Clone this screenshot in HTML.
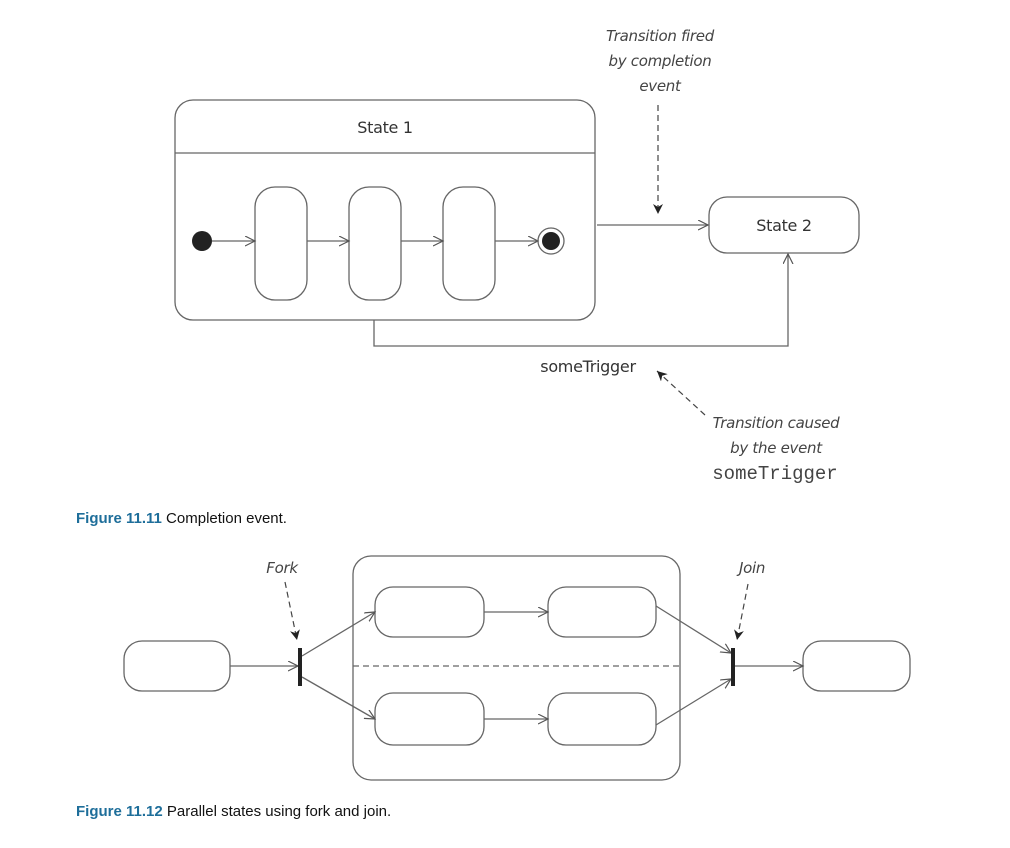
<!DOCTYPE html>
<html><head><style>
body{margin:0;background:#fff;}
svg{display:block}
.t{font-family:"DejaVu Sans","Liberation Sans",sans-serif;font-size:16px;fill:#333;letter-spacing:-0.3px}
.i{font-family:"DejaVu Sans","Liberation Sans",sans-serif;font-style:italic;font-size:15px;fill:#444;letter-spacing:-0.3px}
.m{font-family:"Liberation Mono",monospace;font-size:19px;fill:#444}
.c{font-family:"Liberation Sans",sans-serif;font-size:15px;fill:#111}
.cb{font-weight:bold;fill:#1e6e9a}
</style></head><body>
<svg width="1010" height="848" viewBox="0 0 1010 848" xmlns="http://www.w3.org/2000/svg">
<defs>
<marker id="o" markerWidth="12" markerHeight="12" refX="10" refY="5" orient="auto" markerUnits="userSpaceOnUse"><path d="M0,0 L10,5 L0,10" fill="none" stroke="#555" stroke-width="1.2"/></marker>
<marker id="f" markerWidth="12" markerHeight="14" refX="10" refY="5" orient="auto" markerUnits="userSpaceOnUse"><path d="M0,0 L10,5 L0,10 L3,5z" fill="#222"/></marker>
</defs>
<g fill="none" stroke="#666" stroke-width="1.3">
<rect x="175" y="100" width="420" height="220" rx="18"/>
<line x1="175" y1="153" x2="595" y2="153"/>
<rect x="255" y="187" width="52" height="113" rx="20"/>
<rect x="349" y="187" width="52" height="113" rx="20"/>
<rect x="443" y="187" width="52" height="113" rx="20"/>
<line x1="212" y1="241" x2="255" y2="241" marker-end="url(#o)"/>
<line x1="307" y1="241" x2="349" y2="241" marker-end="url(#o)"/>
<line x1="401" y1="241" x2="443" y2="241" marker-end="url(#o)"/>
<line x1="495" y1="241" x2="538" y2="241" marker-end="url(#o)"/>
<circle cx="551" cy="241" r="13"/>
<rect x="709" y="197" width="150" height="56" rx="18"/>
<line x1="597" y1="225" x2="708" y2="225" marker-end="url(#o)"/>
<polyline points="374,320 374,346 788,346 788,254" marker-end="url(#o)"/>
</g>
<circle cx="202" cy="241" r="10" fill="#222"/>
<circle cx="551" cy="241" r="9" fill="#222"/>
<g fill="none" stroke="#444" stroke-width="1.2" stroke-dasharray="6,4">
<line x1="658" y1="105" x2="658" y2="214" marker-end="url(#f)"/>
<line x1="705" y1="415" x2="657" y2="371" marker-end="url(#f)"/>
</g>
<text class="t" x="385" y="133" text-anchor="middle">State 1</text>
<text class="t" x="784" y="231" text-anchor="middle">State 2</text>
<text class="t" x="588" y="372" text-anchor="middle">someTrigger</text>
<text class="i" x="660" y="41" text-anchor="middle">Transition fired</text>
<text class="i" x="660" y="66" text-anchor="middle">by completion</text>
<text class="i" x="660" y="91" text-anchor="middle">event</text>
<text class="i" x="776" y="428" text-anchor="middle">Transition caused</text>
<text class="i" x="776" y="453" text-anchor="middle">by the event</text>
<text class="m" x="775" y="479" text-anchor="middle">someTrigger</text>
<text class="c" x="76" y="523"><tspan class="cb">Figure 11.11</tspan>  Completion event.</text>

<g fill="none" stroke="#666" stroke-width="1.3">
<rect x="124" y="641" width="106" height="50" rx="18"/>
<rect x="353" y="556" width="327" height="224" rx="18"/>
<rect x="375" y="587" width="109" height="50" rx="18"/>
<rect x="548" y="587" width="108" height="50" rx="18"/>
<rect x="375" y="693" width="109" height="52" rx="18"/>
<rect x="548" y="693" width="108" height="52" rx="18"/>
<rect x="803" y="641" width="107" height="50" rx="18"/>
<line x1="353" y1="666" x2="680" y2="666" stroke-dasharray="6,4"/>
<line x1="230" y1="666" x2="298" y2="666" marker-end="url(#o)"/>
<line x1="302" y1="656" x2="375" y2="612" marker-end="url(#o)"/>
<line x1="302" y1="677" x2="375" y2="719" marker-end="url(#o)"/>
<line x1="484" y1="612" x2="548" y2="612" marker-end="url(#o)"/>
<line x1="484" y1="719" x2="548" y2="719" marker-end="url(#o)"/>
<line x1="656" y1="606" x2="731" y2="653" marker-end="url(#o)"/>
<line x1="656" y1="725" x2="731" y2="679" marker-end="url(#o)"/>
<line x1="735" y1="666" x2="803" y2="666" marker-end="url(#o)"/>
</g>
<rect x="298" y="648" width="4" height="38" fill="#222"/>
<rect x="731" y="648" width="4" height="38" fill="#222"/>
<g fill="none" stroke="#444" stroke-width="1.2" stroke-dasharray="6,4">
<line x1="285" y1="582" x2="297" y2="640" marker-end="url(#f)"/>
<line x1="748" y1="584" x2="737" y2="640" marker-end="url(#f)"/>
</g>
<text class="i" x="282" y="573" text-anchor="middle">Fork</text>
<text class="i" x="752" y="573" text-anchor="middle">Join</text>
<text class="c" x="76" y="816"><tspan class="cb">Figure 11.12</tspan>  Parallel states using fork and join.</text>
</svg>
</body></html>
